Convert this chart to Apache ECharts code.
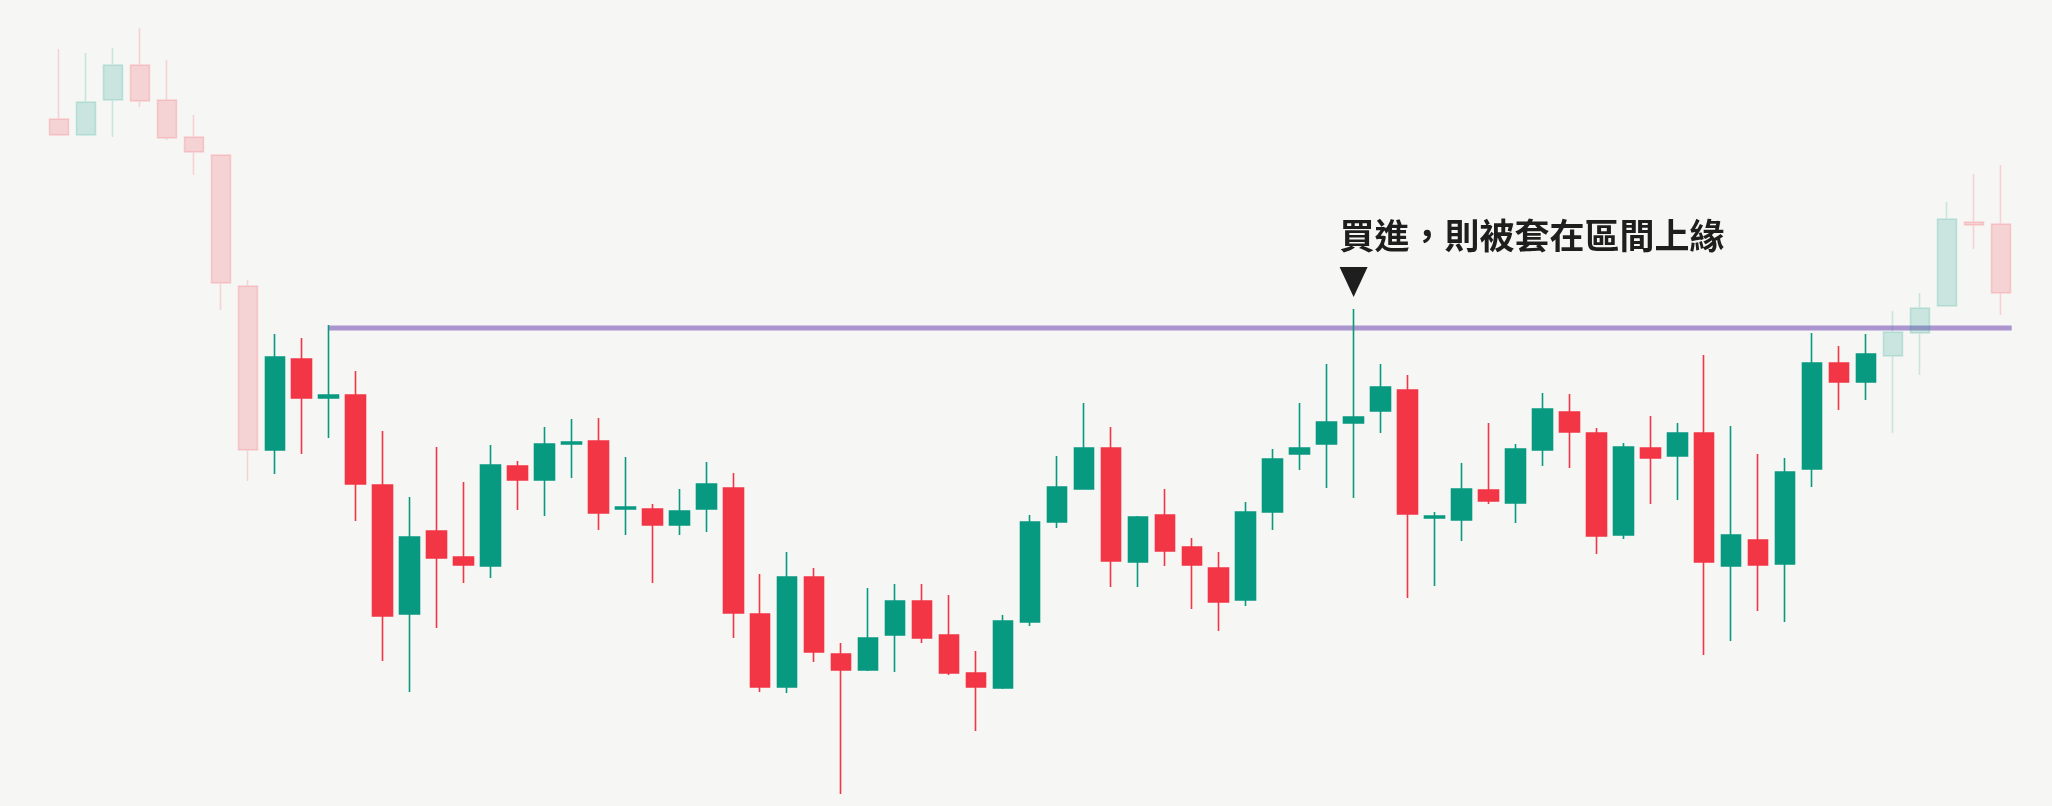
<!DOCTYPE html>
<html>
<head>
<meta charset="utf-8">
<title>區間上緣</title>
<script src="https://cdn.jsdelivr.net/npm/echarts@6/dist/echarts.min.js"></script>
<style>
  html, body { margin: 0; padding: 0; background: #f6f6f4; }
  #main { width: 2052px; height: 806px; }
</style>
</head>
<body>
<div id="main"></div>
<script>
// K線資料
var openPrices  = [68.7, 67.1, 70.6, 74.1, 70.6, 66.9, 65.1, 52.0, 35.6, 44.7,
                   40.8, 41.1, 32.1, 19.2, 27.5, 24.9, 24.0, 34.0, 32.6, 36.2,
                   36.5, 29.7, 29.7, 28.1, 29.7, 31.8, 19.2, 11.9, 22.9, 15.2,
                   13.6, 17.1, 20.5, 17.1, 13.3, 11.8, 18.4, 28.4, 31.7, 35.8,
                   24.4, 29.1, 25.9, 23.8, 20.6, 29.4, 35.2, 36.2, 38.3, 39.5,
                   41.6, 28.8, 28.6, 31.6, 30.3, 35.6, 39.4, 37.3, 27.1, 35.8,
                   35.0, 37.3, 24.0, 26.6, 24.2, 33.7, 44.3, 42.4, 45.0, 47.3,
                   50.0, 58.4, 58.2];
var closePrices = [67.1, 70.4, 74.1, 70.5, 66.8, 65.4, 52.3, 35.6, 44.9, 40.8,
                   41.1, 32.2, 19.0, 26.9, 24.8, 24.1, 34.1, 32.6, 36.2, 36.4,
                   29.3, 29.9, 28.1, 29.5, 32.2, 19.3, 11.9, 22.9, 15.4, 13.6,
                   16.8, 20.5, 16.8, 13.3, 11.9, 18.5, 28.4, 31.9, 35.8, 24.5,
                   28.9, 25.5, 24.1, 20.4, 29.4, 34.7, 35.8, 38.4, 38.9, 41.9,
                   29.2, 29.0, 31.7, 30.5, 35.7, 39.7, 37.4, 27.0, 35.9, 34.8,
                   37.3, 24.4, 27.1, 24.1, 33.4, 44.3, 42.4, 45.2, 47.4, 49.8,
                   58.7, 58.1, 51.3];
var lowPrices   = [67.0, 67.0, 66.9, 69.9, 66.6, 63.1, 49.6, 32.5, 33.2, 35.2,
                   36.8, 28.5, 14.5, 11.4, 17.8, 22.3, 22.8, 29.6, 29.0, 32.8,
                   27.6, 27.1, 22.3, 27.1, 27.4, 16.8, 11.4, 11.3, 14.4, 1.2,
                   13.5, 13.4, 16.3, 13.1, 7.5, 11.7, 18.0, 27.8, 31.7, 21.9,
                   21.9, 24.0, 19.7, 17.5, 20.0, 27.6, 33.6, 31.8, 30.8, 37.3,
                   20.8, 22.0, 26.5, 30.2, 28.3, 34.0, 33.8, 25.2, 26.7, 30.2,
                   30.6, 15.1, 16.5, 19.5, 18.4, 31.9, 39.6, 40.6, 37.3, 43.1,
                   50.0, 55.7, 49.1];
var highPrices  = [75.7, 75.3, 75.8, 77.8, 74.6, 69.1, 65.2, 52.6, 47.2, 46.8,
                   48.1, 43.5, 37.5, 30.9, 35.9, 32.4, 36.1, 34.5, 37.9, 38.7,
                   38.8, 34.9, 30.2, 31.7, 34.4, 33.3, 23.2, 25.4, 23.8, 16.3,
                   21.8, 22.2, 22.2, 21.1, 15.5, 19.1, 29.1, 35.0, 40.3, 37.9,
                   29.0, 31.7, 26.8, 25.4, 30.4, 35.7, 40.3, 44.2, 49.7, 44.2,
                   43.1, 29.4, 34.3, 38.3, 36.2, 41.3, 41.2, 37.8, 36.3, 39.0,
                   38.3, 45.1, 38.0, 35.2, 34.8, 47.3, 46.0, 47.2, 49.5, 51.3,
                   60.4, 63.2, 64.1];

// 區間之前與之後的K棒淡化
var fadedBefore = 8;
var fadedAfter = 68;

// 區間上緣（起點為第11根K棒，畫到最後一根K棒右緣）
var resistanceLevel = 47.8;
var rangeStart = 10;
var rangeEnd = 72.4;

// 標註
var buyIndex = 48;
var annotationText = '買進，則被套在區間上緣';

var days = openPrices.map(function (v, i) { return 'D' + (i + 1); });

var candles = openPrices.map(function (o, i) {
  var item = { value: [o, closePrices[i], lowPrices[i], highPrices[i]] };
  if (i < fadedBefore || i >= fadedAfter) {
    item.itemStyle = { opacity: 0.18 };
  }
  return item;
});

var myChart = echarts.init(document.getElementById('main'));
myChart.setOption({
  animation: false,
  backgroundColor: '#f6f6f4',
  grid: { left: 45.5, right: 37.6, top: 0, bottom: 0 },
  xAxis: [{
    type: 'category',
    data: days,
    show: false,
    boundaryGap: true
  }, {
    // 與類別軸對齊的數值軸，用來畫區間上緣線
    type: 'value',
    min: -0.5,
    max: days.length - 0.5,
    show: false,
    splitLine: { show: false }
  }],
  yAxis: {
    type: 'value',
    min: 0,
    max: 80.6,
    show: false,
    splitLine: { show: false }
  },
  series: [{
    type: 'line',
    xAxisIndex: 1,
    silent: true,
    symbol: 'none',
    z: 1,
    lineStyle: { color: '#ab95d0', width: 5 },
    data: [[rangeStart, resistanceLevel], [rangeEnd, resistanceLevel]]
  }, {
    type: 'candlestick',
    data: candles,
    barWidth: 20,
    z: 2,
    itemStyle: {
      color: '#089981',
      color0: '#f23645',
      borderColor: '#089981',
      borderColor0: '#f23645',
      borderWidth: 1.6
    },
    markPoint: {
      silent: true,
      symbol: 'triangle',
      symbolRotate: 180,
      symbolSize: [28, 30],
      symbolOffset: [0, -27],
      itemStyle: { color: '#1e1e1e' },
      label: {
        show: true,
        formatter: annotationText,
        position: [0, -14],
        align: 'left',
        verticalAlign: 'bottom',
        fontFamily: 'Noto Sans CJK TC',
        fontWeight: 'bold',
        fontSize: 35,
        color: '#1e1e1e'
      },
      data: [{ coord: [buyIndex, highPrices[buyIndex]] }]
    }
  }]
});
</script>
</body>
</html>
